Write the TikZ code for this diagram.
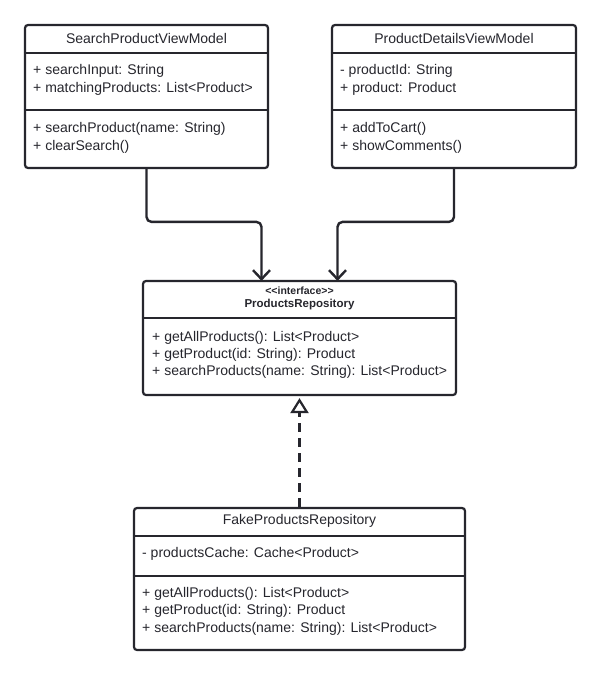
\documentclass[tikz,border=0pt]{standalone}
\usepackage{fontspec}
\setmainfont[Ligatures=NoCommon]{Liberation Sans}
\usetikzlibrary{arrows.meta,calc}
\definecolor{ink}{RGB}{38,38,45}
\begin{document}
\begin{tikzpicture}[x=1pt,y=-1pt,
  umlbox/.style={draw=ink, line width=2.2pt, rounded corners=3pt, inner sep=0pt, fill=white},
  divider/.style={draw=ink, line width=2.2pt},
  txt/.style={font=\fontsize{14}{16}\selectfont, text=ink, inner sep=0pt, anchor=west},
  ttl/.style={font=\fontsize{14}{16}\selectfont, text=ink, inner sep=0pt},
  assoc/.style={draw=ink, line width=2.4pt, rounded corners=5pt, -{Straight Barb[length=9pt,width=17pt,line width=2.4pt]}},
  realize/.style={draw=ink, line width=2.6pt, dash pattern=on 9pt off 6pt, -{Triangle[open,length=15pt,width=18pt,line width=2.2pt,fill=white]}}
]
\useasboundingbox (0,0) rectangle (600,677);
\fill[white] (0,0) rectangle (600,677);

% SearchProductViewModel
\node[umlbox, minimum width=243pt, minimum height=143pt] (svm) at (146.5,96.5) {};
\draw[divider] (svm.west |- 0,53) -- (svm.east |- 0,53);
\draw[divider] (svm.west |- 0,110) -- (svm.east |- 0,110);
\node[ttl] (svmt) at (146.5,38) {SearchProductViewModel};
\node[txt] (svma1) at (33,71) {+ searchInput: String};
\node[txt] (svma2) at (33,89) {+ matchingProducts: List<Product>};
\node[txt] (svmm1) at (33,129) {+ searchProduct(name: String)};
\node[txt] (svmm2) at (33,147) {+ clearSearch()};

% ProductDetailsViewModel
\node[umlbox, minimum width=244pt, minimum height=143pt] (pdvm) at (454,96.5) {};
\draw[divider] (pdvm.west |- 0,53) -- (pdvm.east |- 0,53);
\draw[divider] (pdvm.west |- 0,110) -- (pdvm.east |- 0,110);
\node[ttl] (pdvmt) at (454,38) {ProductDetailsViewModel};
\node[txt] (pdvma1) at (340,71) {- productId: String};
\node[txt] (pdvma2) at (340,89) {+ product: Product};
\node[txt] (pdvmm1) at (340,129) {+ addToCart()};
\node[txt] (pdvmm2) at (340,147) {+ showComments()};

% ProductsRepository
\node[umlbox, minimum width=313pt, minimum height=114pt] (repo) at (299.5,338) {};
\draw[divider] (repo.west |- 0,318) -- (repo.east |- 0,318);
\node[ttl, font=\bfseries\fontsize{10.5}{12}\selectfont] (repos) at (299.5,291) {<{}<interface>{}>};
\node[ttl, font=\bfseries\fontsize{11.5}{13}\selectfont] (repot) at (299.5,305) {ProductsRepository};
\node[txt] (repom1) at (152,338) {+ getAllProducts(): List<Product>};
\node[txt] (repom2) at (152,355) {+ getProduct(id: String): Product};
\node[txt] (repom3) at (152,372) {+ searchProducts(name: String): List<Product>};

% FakeProductsRepository
\node[umlbox, minimum width=331pt, minimum height=142pt] (fake) at (299.5,579) {};
\draw[divider] (fake.west |- 0,536) -- (fake.east |- 0,536);
\draw[divider] (fake.west |- 0,576) -- (fake.east |- 0,576);
\node[ttl] (faket) at (299.5,521) {FakeProductsRepository};
\node[txt] (fakea1) at (142,554) {- productsCache: Cache<Product>};
\node[txt] (fakem1) at (142,594) {+ getAllProducts(): List<Product>};
\node[txt] (fakem2) at (142,611) {+ getProduct(id: String): Product};
\node[txt] (fakem3) at (142,629) {+ searchProducts(name: String): List<Product>};

% connectors
\coordinate (b1) at ($(repo.north)+(-38,-58)$);
\coordinate (b2) at ($(repo.north)+(38,-58)$);
\draw[assoc] (svm.south) |- (b1) -- ([yshift=-1pt,xshift=-38pt]repo.north);
\draw[assoc] (pdvm.south) |- (b2) -- ([yshift=-1pt,xshift=38pt]repo.north);
\draw[realize] (fake.north) -- ([yshift=-2pt]repo.south);
\end{tikzpicture}
\end{document}
